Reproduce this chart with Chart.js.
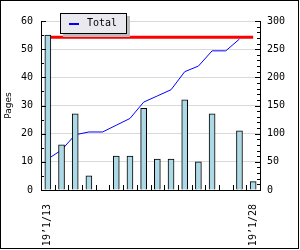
<!DOCTYPE html>
<html>
<head>
  <meta charset="UTF-8">
  <title>Pages</title>
  <script src="https://cdn.jsdelivr.net/npm/chart.js"></script>
  <style>
    body { margin: 0; background: #ffffff; }
    #wrap { position: relative; width: 300px; height: 250px; }
    #frame {
      position: absolute; left: 0; top: 0; width: 297px; height: 247px;
      border: 1px solid #000; pointer-events: none;
    }
    #legend {
      position: absolute; left: 60px; top: 13px; width: 65px; height: 19px;
      background: #ebe9f0; border: 1px solid #000;
      box-shadow: 3px 3px 0 #bcbcbc;
      font: 10px "DejaVu Sans Mono", monospace; color: #000;
    }
    #legend .swatch {
      position: absolute; left: 8px; top: 9px; width: 10px; height: 2px; background: #0000ff;
    }
    #legend .label { position: absolute; left: 26px; top: 3px; }
  </style>
</head>
<body>
  <div id="wrap">
    <canvas id="chart" width="300" height="250"></canvas>
    <div id="legend"><span class="swatch"></span><span class="label">Total</span></div>
    <div id="frame"></div>
  </div>

  <script>
    // data
    const days = ['19’1/13', '19’1/14', '19’1/15', '19’1/16', '19’1/17', '19’1/18', '19’1/19', '19’1/20',
                  '19’1/21', '19’1/22', '19’1/23', '19’1/24', '19’1/25', '19’1/26', '19’1/27', '19’1/28'];
    const pages = [55, 16, 27, 5, 0, 12, 12, 29, 11, 11, 32, 10, 27, 0, 21, 3];
    const total = [55, 71, 98, 103, 103, 115, 127, 156, 167, 178, 210, 220, 247, 247, 268, null];
    const target = [271, 271, 271, 271, 271, 271, 271, 271, 271, 271, 271, 271, 271, 271, 271, 271];
    const leftTicks = [0, 10, 20, 30, 40, 50, 60];
    const rightTicks = [0, 50, 100, 150, 200, 250, 300];

    const mono = { family: 'DejaVu Sans Mono', size: 10 };

    // ticks pointing into the plot, like the original
    const innerTicks = {
      id: 'innerTicks',
      afterDraw(chart) {
        const { ctx, chartArea: a, scales: { x, y, y2 } } = chart;
        ctx.save();
        ctx.strokeStyle = '#000';
        ctx.lineWidth = 1;
        ctx.beginPath();
        for (let v = 0; v <= 60; v += 5) {
          const py = Math.round(y.getPixelForValue(v)) + 0.5;
          ctx.moveTo(a.left, py);
          ctx.lineTo(a.left + (v % 10 ? 3 : 5), py);
        }
        for (let v = 0; v <= 300; v += 10) {
          const py = Math.round(y2.getPixelForValue(v)) + 0.5;
          ctx.moveTo(a.right, py);
          ctx.lineTo(a.right - (v % 50 ? 3 : 5), py);
        }
        for (let i = 1; i < days.length; i++) {
          const px = Math.round((x.getPixelForValue(i - 1) + x.getPixelForValue(i)) / 2) + 0.5;
          ctx.moveTo(px, a.bottom);
          ctx.lineTo(px, a.bottom - 5);
        }
        ctx.stroke();
        ctx.restore();
      }
    };

    const ctx = document.getElementById('chart').getContext('2d');
    new Chart(ctx, {
      type: 'bar',
      data: {
        labels: days,
        datasets: [
          {
            type: 'bar',
            label: 'Pages',
            data: pages,
            backgroundColor: '#add8e6',
            borderColor: '#000',
            borderWidth: 1,
            barThickness: 6,
            yAxisID: 'y',
            order: 0
          },
          {
            type: 'line',
            label: 'Total',
            data: total,
            borderColor: '#0000ff',
            borderWidth: 1,
            pointRadius: 0,
            tension: 0,
            yAxisID: 'y2',
            order: 1
          },
          {
            type: 'line',
            label: 'target',
            data: target,
            borderColor: '#ff0000',
            borderWidth: 3,
            pointRadius: 0,
            yAxisID: 'y2',
            order: 2
          }
        ]
      },
      options: {
        responsive: false,
        animation: false,
        layout: { padding: { top: 21, left: 0, right: 0, bottom: 0 } },
        plugins: {
          legend: { display: false },
          tooltip: { enabled: false }
        },
        scales: {
          x: {
            offset: true,
            grid: { display: false },
            border: { display: true, color: '#000' },
            ticks: {
              autoSkip: false,
              minRotation: 90,
              maxRotation: 90,
              padding: 6,
              color: '#000',
              font: mono,
              callback: (v, i) => (i === 0 || i === days.length - 1) ? days[i] : ''
            },
            afterFit: (s) => { s.height = 60; }
          },
          y: {
            position: 'left',
            min: 0,
            max: 60,
            afterBuildTicks: (s) => { s.ticks = leftTicks.map(v => ({ value: v })); },
            grid: {
              drawTicks: false,
              color: (c) => c.tick && c.tick.value === 0 ? 'transparent' : '#d9d9d9'
            },
            border: { color: '#000' },
            ticks: { padding: 8, color: '#000', font: mono },
            title: {
              display: true,
              text: 'Pages',
              color: '#000',
              font: { family: 'DejaVu Sans', size: 9 },
              padding: { top: 3, bottom: 0 }
            },
            afterFit: (s) => { s.width = 41; }
          },
          y2: {
            position: 'right',
            min: 0,
            max: 300,
            afterBuildTicks: (s) => { s.ticks = rightTicks.map(v => ({ value: v })); },
            grid: { drawOnChartArea: false, drawTicks: false },
            border: { color: '#000' },
            ticks: { padding: 7, color: '#000', font: mono },
            afterFit: (s) => { s.width = 40; }
          }
        }
      },
      plugins: [innerTicks]
    });
  </script>
</body>
</html>
